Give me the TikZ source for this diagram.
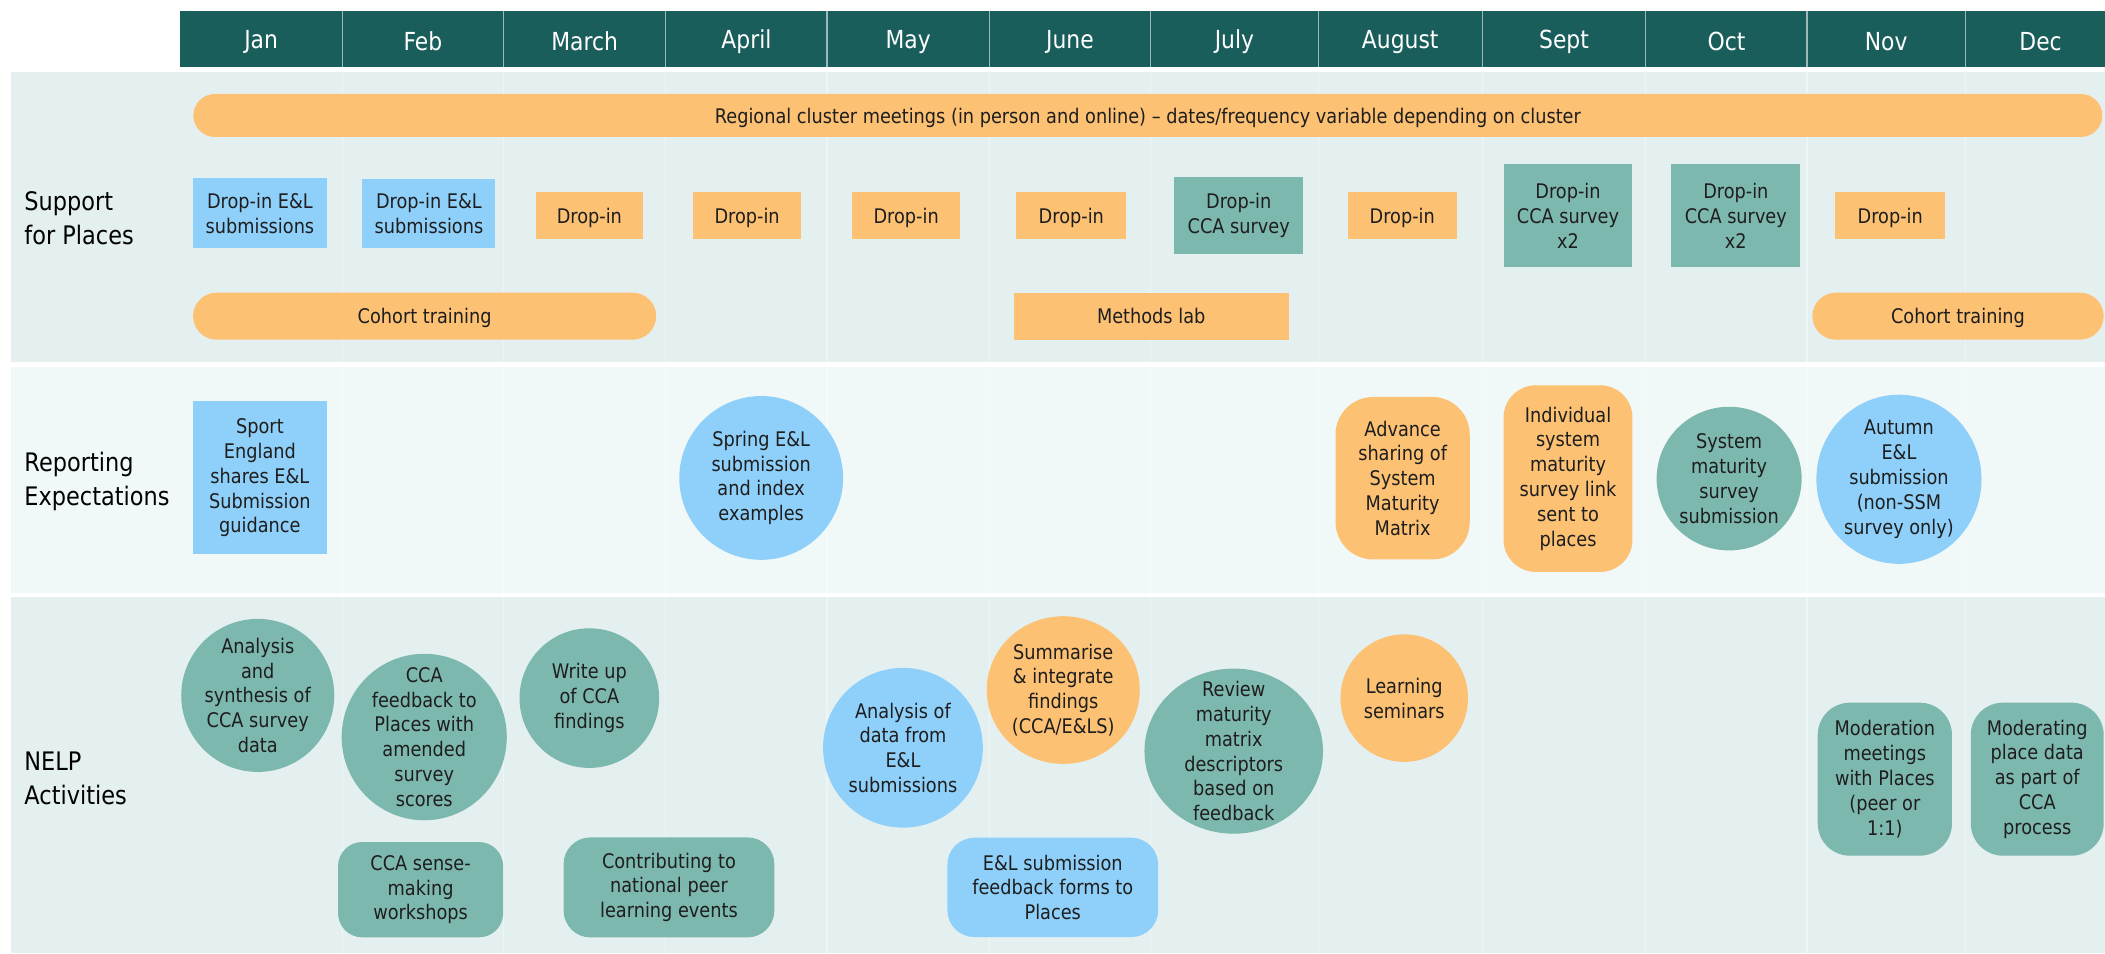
\documentclass[tikz,border=0pt]{standalone}
\usepackage{fontspec}
\setmainfont{DejaVu Sans}[FakeStretch=0.88]
\usetikzlibrary{shapes.geometric}
\definecolor{hdr}{HTML}{1A5E5C}
\definecolor{orng}{HTML}{FCC173}
\definecolor{blu}{HTML}{8FD0FA}
\definecolor{tealc}{HTML}{7DB8AF}
\definecolor{bgA}{HTML}{E4F0F0}
\definecolor{bgB}{HTML}{F1F8F8}
\definecolor{txt}{HTML}{1E1E1E}
\definecolor{divc}{HTML}{9DB8B6}
\tikzset{
  base/.style={inner sep=0pt, outer sep=0pt, align=center, text=txt, font=\fontsize{15}{18.5}\selectfont},
  box/.style={base, rectangle},
  sl/.style={text depth=0pt},
  oval/.style={base, ellipse},
  lbl/.style={base},
  mon/.style={inner sep=0pt, text=white, font=\fontsize{18.5}{22}\selectfont},
  sect/.style={inner sep=0pt, anchor=west, align=left, text=black, font=\fontsize{19}{25}\selectfont},
  faint/.style={draw=white, opacity=0.35, line width=0.8pt}
}
\begin{document}
\begin{tikzpicture}[x=1pt,y=-1pt]
\useasboundingbox (0,0) rectangle (1568,710);
% section backgrounds
\fill[bgA] (8,54) rectangle (1568,270);
\fill[bgB] (8,273) rectangle (1568,442);
\fill[bgA] (8,445) rectangle (1568,710);
\foreach \xx in {255,375,496,616,737,857,982,1104,1226,1346,1464}
  \draw[faint] (\xx,54) -- (\xx,710);
% header
\fill[hdr] (134,8) rectangle (1568,50);
\foreach \xx in {255,375,496,616,737,857,982,1104,1226,1346,1464}
  \draw[divc, line width=0.8pt] (\xx,8) -- (\xx,50);
\node[mon] (mJan) at (194.5,31) {Jan};
\node[mon] (mFeb) at (315,31) {Feb};
\node[mon] (mMar) at (435.5,31) {March};
\node[mon] (mApr) at (556,31) {April};
\node[mon] (mMay) at (676.5,31) {May};
\node[mon] (mJun) at (797,31) {June};
\node[mon] (mJul) at (919.5,31) {July};
\node[mon] (mAug) at (1043,31) {August};
\node[mon] (mSep) at (1165,31) {Sept};
\node[mon] (mOct) at (1286,31) {Oct};
\node[mon] (mNov) at (1405,31) {Nov};
\node[mon] (mDec) at (1520,31) {Dec};
% section labels
\node[sect] (s1) at (18,162.5) {Support\\for Places};
\node[sect] (s2) at (18,358.5) {Reporting\\Expectations};
\node[sect] (s3) at (18,580) {NELP\\Activities};
% row 1
\node[box, sl, fill=orng, rounded corners=16pt, minimum width=1422pt, minimum height=32pt] (reg) at (855,86) {Regional cluster meetings (in person and online) -- dates/frequency variable depending on cluster};
\node[box, fill=blu, minimum width=100pt, minimum height=52pt] (dA) at (193.6,158.8) {Drop-in E\&L\\submissions};
\node[box, fill=blu, minimum width=99pt, minimum height=52pt] (dB) at (319.5,159) {Drop-in E\&L\\submissions};
\node[box, sl, fill=orng, minimum width=80pt, minimum height=35pt] (dMar) at (439,160.5) {Drop-in};
\node[box, sl, fill=orng, minimum width=81pt, minimum height=35pt] (dApr) at (556.5,160.5) {Drop-in};
\node[box, sl, fill=orng, minimum width=80pt, minimum height=35pt] (dMay) at (675,160.5) {Drop-in};
\node[box, sl, fill=orng, minimum width=82pt, minimum height=35pt] (dJun) at (798,160.5) {Drop-in};
\node[box, fill=tealc, minimum width=96pt, minimum height=57pt] (dJul) at (922.7,160.5) {Drop-in\\CCA survey};
\node[box, sl, fill=orng, minimum width=81pt, minimum height=35pt] (dAug) at (1044.5,160.5) {Drop-in};
\node[box, fill=tealc, minimum width=96pt, minimum height=77pt] (dSep) at (1168,160.7) {Drop-in\\CCA survey\\x2};
\node[box, fill=tealc, minimum width=96pt, minimum height=77pt] (dOct) at (1293,160.7) {Drop-in\\CCA survey\\x2};
\node[box, sl, fill=orng, minimum width=82pt, minimum height=35pt] (dNov) at (1408,160.5) {Drop-in};
\node[box, sl, fill=orng, rounded corners=17.5pt, minimum width=345pt, minimum height=35pt] (coh1) at (316.3,235.5) {Cohort training};
\node[box, sl, fill=orng, minimum width=205pt, minimum height=35pt] (meth) at (857.5,235.5) {Methods lab};
\node[box, sl, fill=orng, rounded corners=17.5pt, minimum width=217pt, minimum height=35pt] (coh2) at (1458.5,235.5) {Cohort training};
% row 2
\node[box, fill=blu, minimum width=100pt, minimum height=114pt] (sport) at (193.6,356) {Sport\\England\\shares E\&L\\Submission\\guidance};
\node[oval, fill=blu, minimum width=122pt, minimum height=122pt] (spring) at (567,356) {};
\node[lbl] (springT) at (spring) {Spring E\&L\\submission\\and index\\examples};
\node[box, fill=orng, rounded corners=28pt, minimum width=100pt, minimum height=121pt] (adv) at (1044.8,356.2) {Advance\\sharing of\\System\\Maturity\\Matrix};
\node[box, fill=orng, rounded corners=24pt, minimum width=96pt, minimum height=139pt] (indiv) at (1168,356.5) {Individual\\system\\maturity\\survey link\\sent to\\places};
\node[oval, fill=tealc, minimum width=108pt, minimum height=107pt] (sysm) at (1288,356.5) {};
\node[lbl] (sysmT) at (sysm) {System\\maturity\\survey\\submission};
\node[oval, fill=blu, minimum width=123pt, minimum height=126pt] (aut) at (1414.5,357) {};
\node[lbl] (autT) at (aut) {Autumn\\E\&L\\submission\\(non-SSM\\survey only)};
% row 3
\node[oval, fill=tealc, minimum width=114pt, minimum height=114pt] (ana) at (192,518) {};
\node[lbl] (anaT) at (ana) {Analysis\\and\\synthesis of\\CCA survey\\data};
\node[oval, fill=tealc, minimum width=123pt, minimum height=124pt] (ccafb) at (316,549) {};
\node[lbl] (ccafbT) at (ccafb) {CCA\\feedback to\\Places with\\amended\\survey\\scores};
\node[oval, fill=tealc, minimum width=104pt, minimum height=104pt] (wri) at (439,520) {};
\node[lbl] (wriT) at (wri) {Write up\\of CCA\\findings};
\node[oval, fill=blu, minimum width=119pt, minimum height=119pt] (anad) at (672.6,557) {};
\node[lbl] (anadT) at (anad) {Analysis of\\data from\\E\&L\\submissions};
\node[oval, fill=orng, minimum width=114pt, minimum height=110pt] (summ) at (792,514) {};
\node[lbl] (summT) at (summ) {Summarise\\\& integrate\\findings\\(CCA/E\&LS)};
\node[oval, fill=tealc, minimum width=133pt, minimum height=123pt] (rev) at (919,559.5) {};
\node[lbl] (revT) at (rev) {Review\\maturity\\matrix\\descriptors\\based on\\feedback};
\node[oval, fill=orng, minimum width=95pt, minimum height=95pt] (lrn) at (1046,520) {};
\node[lbl] (lrnT) at (lrn) {Learning\\seminars};
\node[box, fill=tealc, rounded corners=24pt, minimum width=100pt, minimum height=114pt] (modm) at (1404,580.4) {Moderation\\meetings\\with Places\\(peer or\\1:1)};
\node[box, fill=tealc, rounded corners=24pt, minimum width=99pt, minimum height=114pt] (modp) at (1517.5,580.4) {Moderating\\place data\\as part of\\CCA\\process};
\node[box, fill=tealc, rounded corners=18pt, minimum width=123pt, minimum height=71pt] (sense) at (313.3,662.7) {CCA sense-\\making\\workshops};
\node[box, fill=tealc, rounded corners=20pt, minimum width=157pt, minimum height=74.5pt] (contr) at (498.3,661) {Contributing to\\national peer\\learning events};
\node[box, fill=blu, rounded corners=20pt, minimum width=157pt, minimum height=74pt] (elfb) at (784.2,661) {E\&L submission\\feedback forms to\\Places};
\end{tikzpicture}
\end{document}
